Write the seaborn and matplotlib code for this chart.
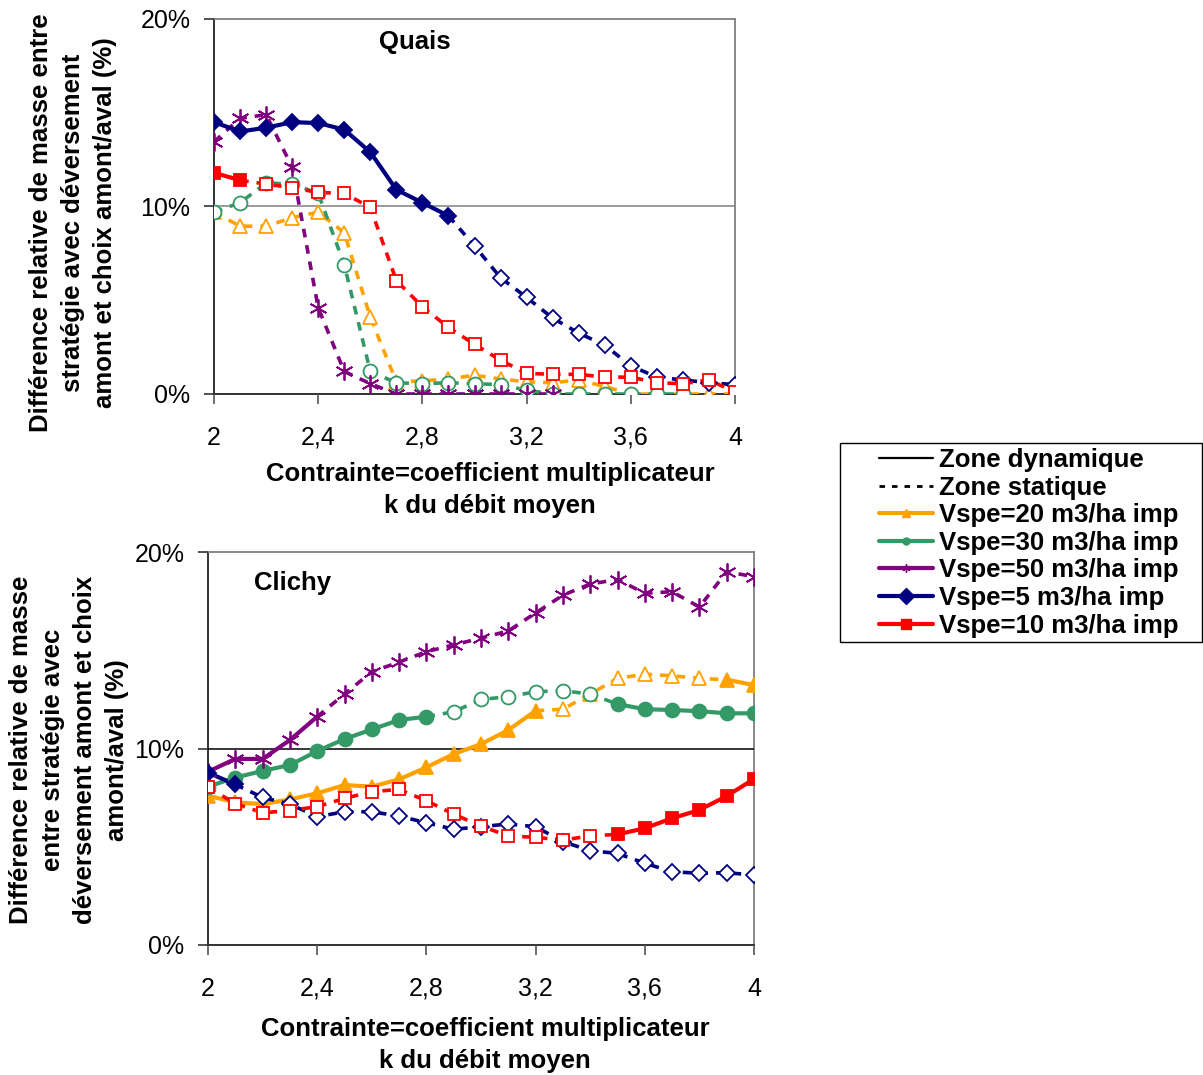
import numpy as np
import pandas as pd
import matplotlib
matplotlib.use("Agg")
import matplotlib.pyplot as plt
from matplotlib.lines import Line2D
from matplotlib.patches import Rectangle
from matplotlib.ticker import FuncFormatter
import seaborn as sns

sns.set_style("white")
plt.rcParams['font.family'] = ['Liberation Sans', 'DejaVu Sans']
plt.rcParams['text.color'] = 'black'
plt.rcParams['axes.labelcolor'] = 'black'
plt.rcParams['xtick.labelcolor'] = 'black'
plt.rcParams['ytick.labelcolor'] = 'black'

# ---------------- data ----------------
k = [2.0, 2.1, 2.2, 2.3, 2.4, 2.5, 2.6, 2.7, 2.8, 2.9, 3.0,
     3.1, 3.2, 3.3, 3.4, 3.5, 3.6, 3.7, 3.8, 3.9, 4.0]
x_ticks = [2.0, 2.4, 2.8, 3.2, 3.6, 4.0]
y_ticks = [0, 10, 20]
nan = np.nan

# Quais (values in %)
quais_v20 = [9.7, 8.95, 8.95, 9.4, 9.7, 8.6, 4.1, 0.65, 0.7, 0.8, 1.0,
             0.8, 0.65, 0.6, 0.75, 0.4, 0.0, 0.0, 0.0, 0.0, 0.0]
quais_v30 = [9.7, 10.2, 11.25, 11.2, 10.7, 6.9, 1.2, 0.6, 0.55, 0.6, 0.55,
             0.5, 0.2, 0.0, 0.0, 0.0, 0.0, 0.0, 0.0, nan, nan]
quais_v50 = [13.45, 14.7, 14.9, 12.1, 4.6, 1.2, 0.55, 0.0, 0.0, 0.0, 0.0,
             0.0, 0.0, 0.0, nan, nan, nan, nan, nan, nan, nan]
quais_v5 = [14.5, 14.0, 14.2, 14.5, 14.45, 14.1, 12.9, 10.9, 10.2, 9.5, 7.9,
            6.2, 5.15, 4.05, 3.25, 2.6, 1.5, 0.9, 0.75, 0.6, 0.5]
quais_v10 = [11.8, 11.4, 11.2, 11.0, 10.75, 10.7, 9.95, 6.05, 4.65, 3.55, 2.65,
             1.8, 1.1, 1.05, 1.05, 0.9, 0.9, 0.6, 0.55, 0.75, 0.1]
# dynamic-zone flags (1 = dynamic, 0 = static)
quais_v20_dyn = [0] * 21
quais_v30_dyn = [0] * 21
quais_v50_dyn = [0] * 21
quais_v5_dyn = [1, 1, 1, 1, 1, 1, 1, 1, 1, 1, 0, 0, 0, 0, 0, 0, 0, 0, 0, 0, 0]
quais_v10_dyn = [1, 1, 0, 0, 0, 0, 0, 0, 0, 0, 0, 0, 0, 0, 0, 0, 0, 0, 0, 0, 0]

# Clichy (values in %)
clichy_v20 = [7.6, 7.26, 7.17, 7.41, 7.72, 8.14, 8.06, 8.43, 9.04, 9.72, 10.22,
              10.94, 11.92, 12.0, 12.77, 13.57, 13.78, 13.7, 13.57, 13.5, 13.23]
clichy_v30 = [8.06, 8.52, 8.86, 9.16, 9.87, 10.48, 10.97, 11.45, 11.62, 11.87, 12.5,
              12.63, 12.89, 12.94, 12.77, 12.26, 12.0, 11.96, 11.9, 11.79, 11.79]
clichy_v50 = [8.82, 9.47, 9.47, 10.43, 11.62, 12.77, 13.9, 14.4, 14.93, 15.27, 15.62,
              15.98, 16.9, 17.8, 18.37, 18.6, 17.9, 17.98, 17.2, 19.0, 18.74]
clichy_v5 = [8.77, 8.17, 7.51, 7.17, 6.53, 6.78, 6.78, 6.56, 6.22, 5.89, 6.02,
             6.16, 6.02, 5.26, 4.8, 4.66, 4.16, 3.73, 3.65, 3.68, 3.56]
clichy_v10 = [8.02, 7.2, 6.73, 6.84, 7.04, 7.46, 7.8, 7.92, 7.34, 6.66, 6.05,
              5.55, 5.48, 5.34, 5.55, 5.63, 5.94, 6.45, 6.87, 7.58, 8.45]
clichy_v20_dyn = [1, 1, 1, 1, 1, 1, 1, 1, 1, 1, 1, 1, 1, 0, 0, 0, 0, 0, 0, 1, 1]
clichy_v30_dyn = [1, 1, 1, 1, 1, 1, 1, 1, 1, 0, 0, 0, 0, 0, 0, 1, 1, 1, 1, 1, 1]
clichy_v50_dyn = [1, 1, 1, 1, 1, 0, 0, 0, 0, 0, 0, 0, 0, 0, 0, 0, 0, 0, 0, 0, 0]
clichy_v5_dyn = [1, 1, 0, 0, 0, 0, 0, 0, 0, 0, 0, 0, 0, 0, 0, 0, 0, 0, 0, 0, 0]
clichy_v10_dyn = [0, 0, 0, 0, 0, 0, 0, 0, 0, 0, 0, 0, 0, 0, 0, 1, 1, 1, 1, 1, 1]

labels = ["Vspe=20 m3/ha imp", "Vspe=30 m3/ha imp", "Vspe=50 m3/ha imp",
          "Vspe=5 m3/ha imp", "Vspe=10 m3/ha imp"]

# ---------------- styles ----------------
ORANGE = "#FFA200"
GREEN = "#339966"
PURPLE = "#800080"
NAVY = "#000080"
RED = "#FF0000"
ASTER = (6, 2, 0)
styles = [
    dict(color=ORANGE, marker="^", ms=10.5),
    dict(color=GREEN, marker="o", ms=10),
    dict(color=PURPLE, marker=ASTER, ms=13),
    dict(color=NAVY, marker="D", ms=8.5),
    dict(color=RED, marker="s", ms=8),
]
LW_SOLID = 3.0
LW_DASH = 2.6
DASH = (0, (2.4, 2.2))
FS = 18.5


def draw_series(ax, xs, ys, dyn, st):
    xs = np.asarray(xs, float)
    ys = np.asarray(ys, float)
    dyn = np.asarray(dyn, bool)
    n = len(xs)
    seg = []
    for i in range(n - 1):
        if np.isnan(ys[i]) or np.isnan(ys[i + 1]):
            seg.append(None)
        else:
            seg.append("solid" if (dyn[i] and dyn[i + 1]) else "dash")
    i = 0
    while i < n - 1:
        s = seg[i]
        if s is None:
            i += 1
            continue
        j = i
        while j < n - 1 and seg[j] == s:
            j += 1
        df = pd.DataFrame({"k": xs[i:j + 1], "v": ys[i:j + 1]})
        if s == "solid":
            sns.lineplot(data=df, x="k", y="v", ax=ax, color=st["color"],
                         lw=LW_SOLID, sort=False, estimator=None, zorder=2,
                         solid_capstyle="round")
        else:
            sns.lineplot(data=df, x="k", y="v", ax=ax, color=st["color"],
                         lw=LW_DASH, sort=False, estimator=None, zorder=2,
                         linestyle=DASH)
        i = j
    for filled in (True, False):
        m = (dyn == filled) & ~np.isnan(ys)
        if not m.any():
            continue
        df = pd.DataFrame({"k": xs[m], "v": ys[m]})
        face = st["color"] if filled else "white"
        if st["marker"] is ASTER:
            face = st["color"]
        sns.lineplot(data=df, x="k", y="v", ax=ax, linestyle="none",
                     marker=st["marker"], markersize=st["ms"],
                     markerfacecolor=face, markeredgecolor=st["color"],
                     markeredgewidth=1.3, color=st["color"], sort=False,
                     estimator=None, zorder=3)


def style_axes(ax, grid_color):
    ax.set_xlim(2.0, 4.0)
    ax.set_ylim(0, 20)
    ax.set_xticks(x_ticks)
    ax.set_yticks(y_ticks)
    ax.xaxis.set_major_formatter(FuncFormatter(
        lambda v, p: ("%g" % round(v, 1)).replace(".", ",")))
    ax.yaxis.set_major_formatter(FuncFormatter(lambda v, p: "%d%%" % v))
    ax.tick_params(axis="x", direction="out", length=7, width=1.2,
                   pad=16, labelsize=18, color="#555555", labelcolor="black",
                   bottom=True)
    ax.tick_params(axis="y", direction="out", length=7, width=1.2,
                   pad=10, labelsize=18, color="#333333", labelcolor="black",
                   left=True)
    ax.set_xlabel("")
    ax.set_ylabel("")
    ax.grid(False)
    ax.axhline(10, color=grid_color, lw=1.1, zorder=1)
    for s in ("top", "right"):
        ax.spines[s].set_color("#808080")
        ax.spines[s].set_linewidth(1.3)
        ax.spines[s].set_visible(True)
    for s in ("left", "bottom"):
        ax.spines[s].set_color("#222222")
        ax.spines[s].set_linewidth(1.3)
        ax.spines[s].set_visible(True)


fig = plt.figure(figsize=(12.03, 10.75), dpi=100)
ax1 = fig.add_axes([214 / 1203, 1 - 394 / 1075, 521 / 1203, 375 / 1075])
ax2 = fig.add_axes([208 / 1203, 1 - 945 / 1075, 546 / 1203, 393 / 1075])

quais = [quais_v20, quais_v30, quais_v50, quais_v5, quais_v10]
quais_dyn = [quais_v20_dyn, quais_v30_dyn, quais_v50_dyn, quais_v5_dyn, quais_v10_dyn]
clichy = [clichy_v20, clichy_v30, clichy_v50, clichy_v5, clichy_v10]
clichy_dyn = [clichy_v20_dyn, clichy_v30_dyn, clichy_v50_dyn, clichy_v5_dyn, clichy_v10_dyn]

for ys, dy, st in zip(quais, quais_dyn, styles):
    draw_series(ax1, k, ys, dy, st)
for ys, dy, st in zip(clichy, clichy_dyn, styles):
    draw_series(ax2, k, ys, dy, st)

style_axes(ax1, "#808080")
style_axes(ax2, "#000000")
for ax in (ax1, ax2):
    for sp in ax.spines.values():
        sp.set_zorder(0.5)

ax1.text(0.385, 0.94, "Quais", transform=ax1.transAxes, ha="center",
         va="center", fontsize=FS, fontweight="bold")
ax2.text(0.155, 0.92, "Clichy", transform=ax2.transAxes, ha="center",
         va="center", fontsize=FS, fontweight="bold")

fig.text(73 / 1203, 1 - 223 / 1075,
         "Différence relative de masse entre\nstratégie avec déversement\namont et choix amont/aval (%)",
         rotation=90, ha="center", va="center", fontsize=FS,
         fontweight="bold", linespacing=1.42, multialignment="center")
fig.text(69 / 1203, 1 - 750 / 1075,
         "Différence relative de masse\nentre stratégie avec\ndéversement amont et choix\namont/aval (%)",
         rotation=90, ha="center", va="center", fontsize=FS,
         fontweight="bold", linespacing=1.42, multialignment="center")
xlab = "Contrainte=coefficient multiplicateur\nk du débit moyen"
fig.text(490 / 1203, 1 - 490 / 1075, xlab, ha="center", va="center",
         fontsize=FS, fontweight="bold", linespacing=1.42)
fig.text(485 / 1203, 1 - 1045 / 1075, xlab, ha="center", va="center",
         fontsize=FS, fontweight="bold", linespacing=1.42)

# legend
handles = [Line2D([], [], color="black", lw=1.6),
           Line2D([], [], color="black", lw=2.0, linestyle=(0, (2, 2.5)))]
leg_ms = [6, 5, 6, 8, 7]
for st, ms in zip(styles, leg_ms):
    handles.append(Line2D([], [], color=st["color"], lw=3, marker=st["marker"],
                          markersize=ms, markerfacecolor=st["color"],
                          markeredgecolor=st["color"]))
leg_labels = ["Zone dynamique", "Zone statique"] + labels
leg = fig.legend(handles, leg_labels, loc="upper left",
                 bbox_to_anchor=(879 / 1203, 1 - 448 / 1075),
                 frameon=False, prop=dict(size=FS, weight="bold"),
                 handlelength=2.1, handletextpad=0.25, labelspacing=0.14,
                 borderpad=0.0, borderaxespad=0.0)
fig.patches.append(Rectangle((840 / 1203, 1 - 642 / 1075), 362 / 1203, 199 / 1075,
                             transform=fig.transFigure, fill=False,
                             edgecolor="black", lw=1.0))

fig.savefig("out.png", dpi=100, facecolor="white")
